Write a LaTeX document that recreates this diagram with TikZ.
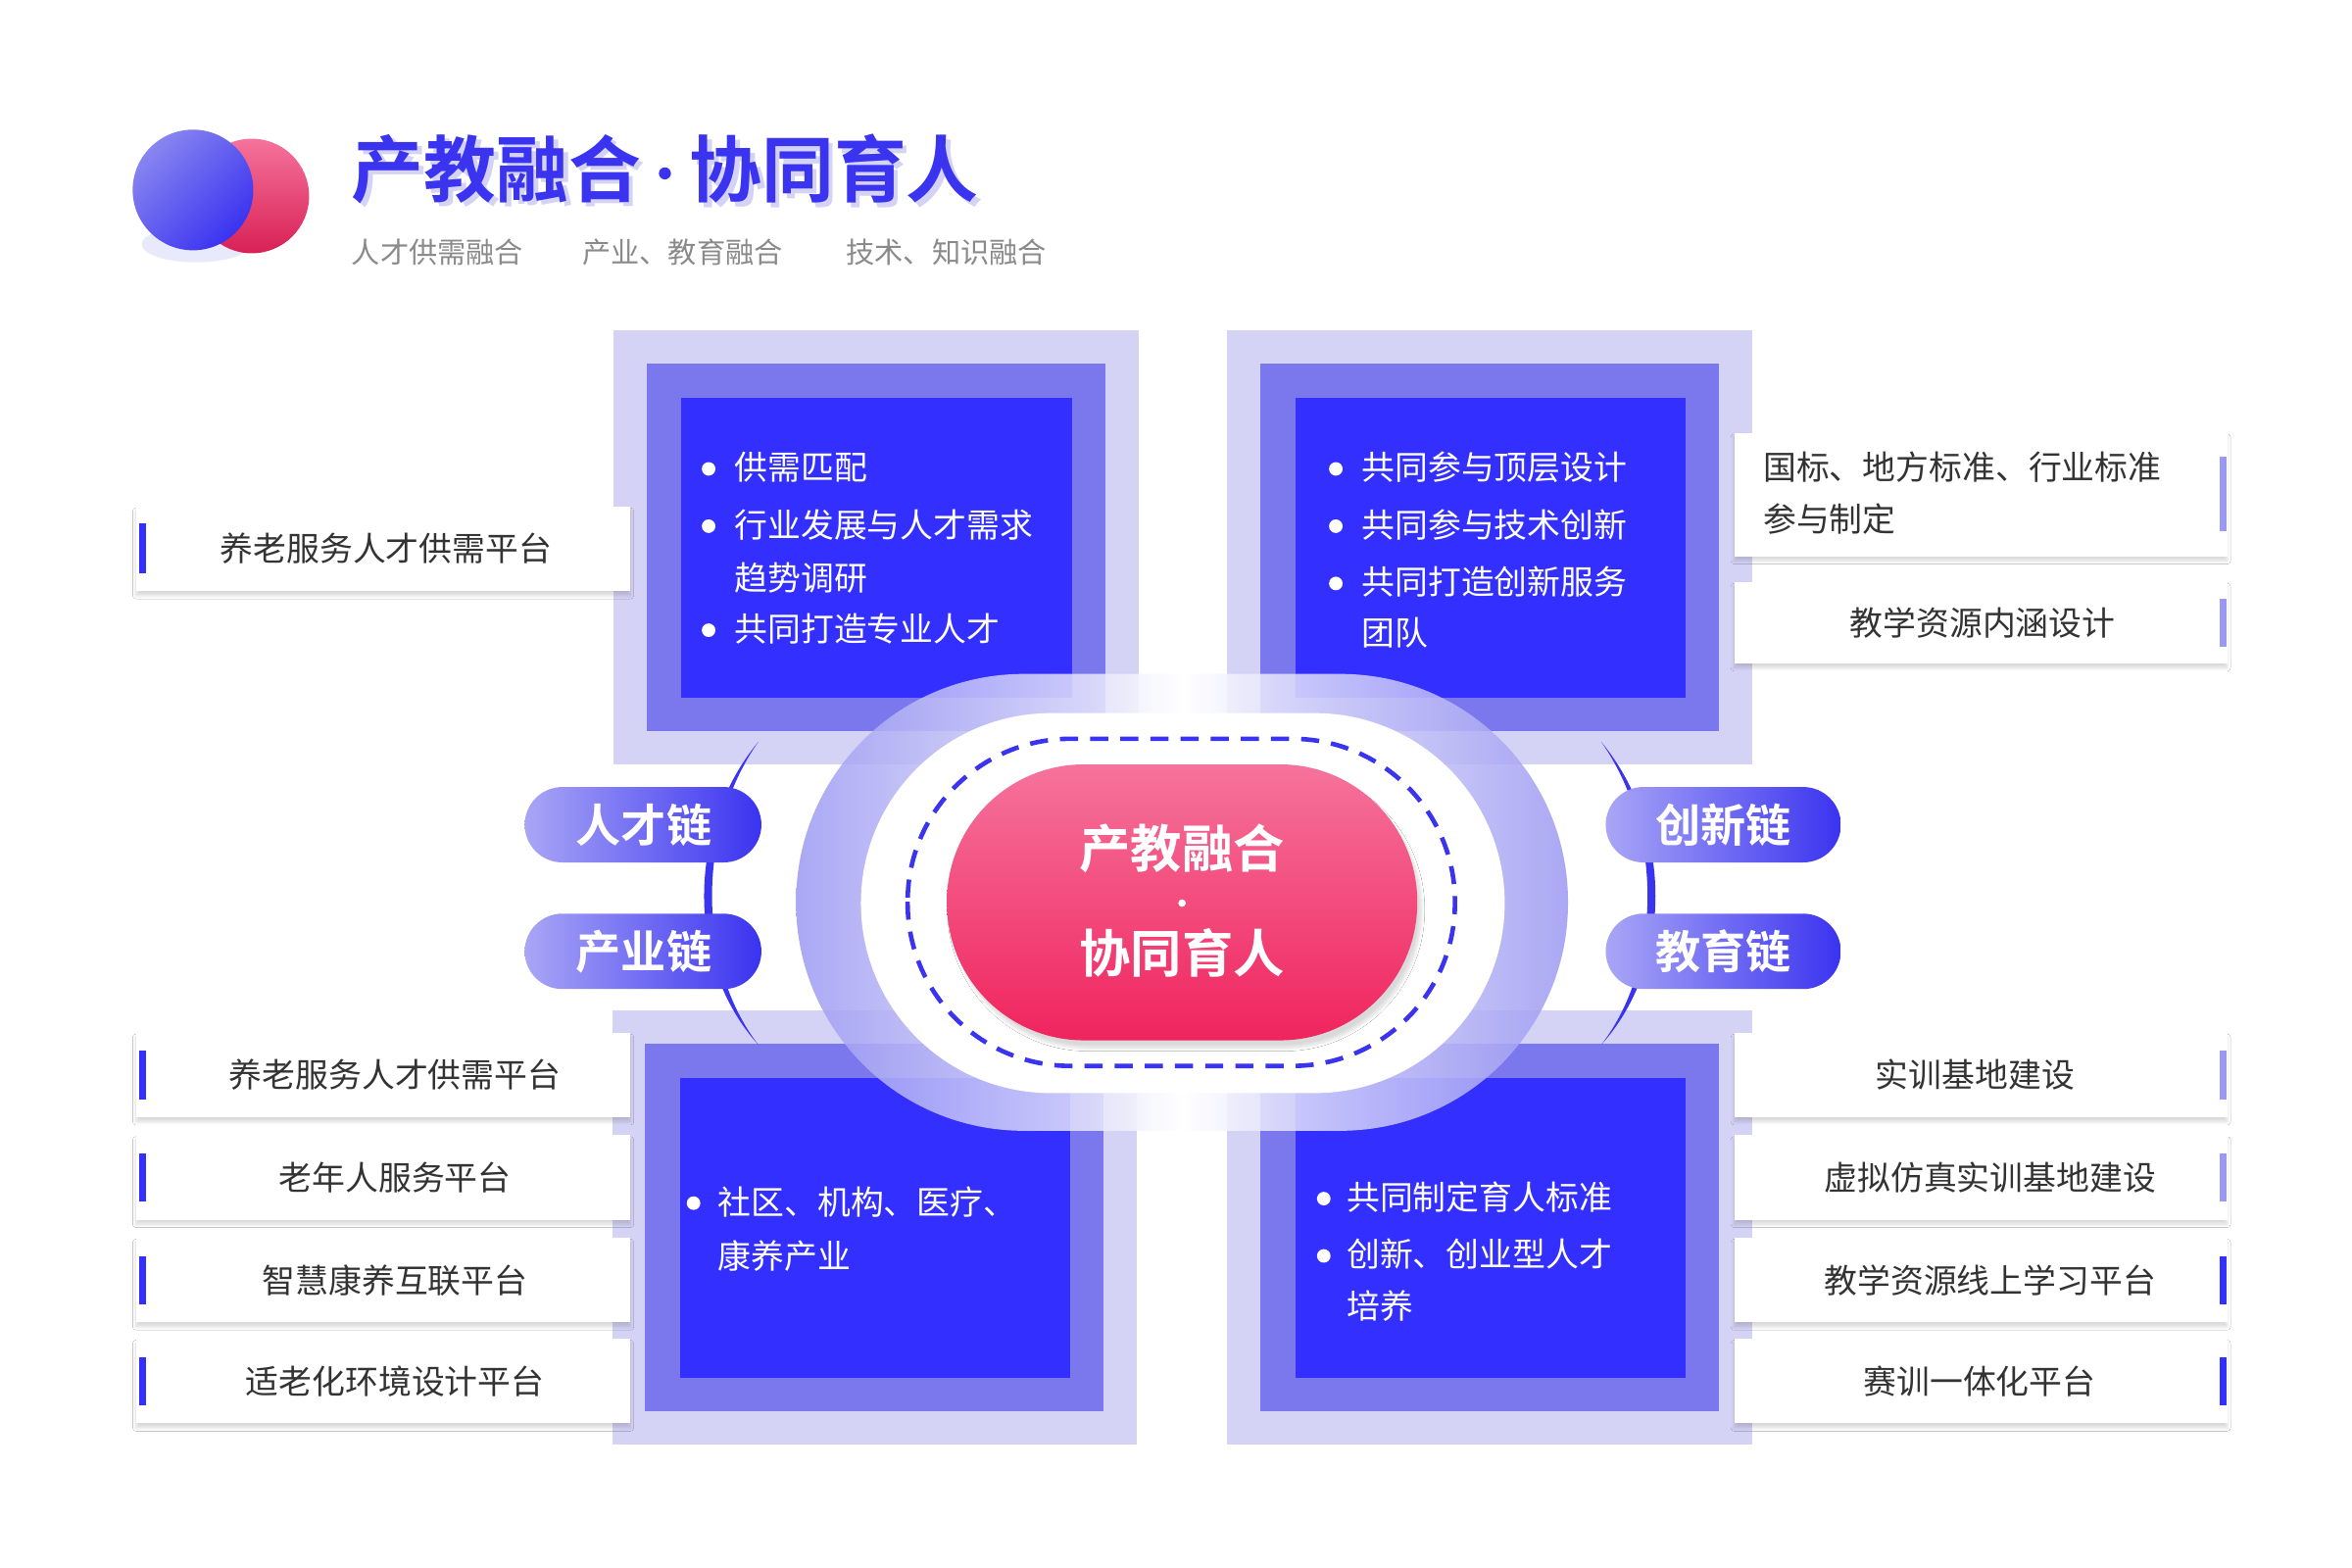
\documentclass[tikz,border=0pt]{standalone}
\usepackage{fontspec}
\setmainfont{Noto Sans CJK SC}
\newfontfamily\cjkb{Noto Sans CJK SC Bold}
\usetikzlibrary{shadows.blur}
\definecolor{bdeep}{HTML}{3330FF}
\definecolor{bmid}{HTML}{7B78EE}
\definecolor{blight}{HTML}{D4D3F5}
\definecolor{tblue}{HTML}{3A33F0}
\definecolor{txtg}{HTML}{8A8A8A}
\definecolor{txtd}{HTML}{333333}
\definecolor{pinkt}{HTML}{F5739C}
\definecolor{pinkb}{HTML}{F0245E}
\definecolor{lav}{HTML}{A9A6F6}
\definecolor{barl}{HTML}{9C99F5}
\tikzset{
  ptxt/.style={text=white,font=\fontsize{22}{26}\selectfont,anchor=west,inner sep=0},
  pill/.style={rounded corners=25pt,left color=lav,right color=tblue},
  pilltxt/.style={text=white,font=\cjkb\fontsize{30}{34}\selectfont},
  card/.style={fill=white,blur shadow={shadow blur steps=8,shadow xshift=0pt,shadow yshift=-3pt,shadow opacity=15}},
  ctxt/.style={text=txtd,font=\fontsize{22}{26}\selectfont},
  dot/.style={circle,fill=white,inner sep=0,minimum size=9pt},
  ttl/.style={anchor=west,font=\cjkb\fontsize{48}{50}\selectfont,inner sep=0}
}
\begin{document}
\begin{tikzpicture}[x=1pt,y=-1pt]
\fill[white] (0,0) rectangle (1560,1040);
\useasboundingbox (0,0) rectangle (1560,1040);
% title circles
\fill[bmid!40,opacity=0.4] (130,162) ellipse (36 and 12);
\shade[top color=pinkt,bottom color=pinkb!90!black] (167,130) circle (38);
\shade[left color=bmid!90,right color=tblue,shading angle=45] (128,126) circle (40);
\begin{scope}[text=blight]
\node[ttl] at (236,115) {产教融合};
\node[ttl] at (460,115) {协同育人};
\end{scope}
\node[ttl,text=tblue] (title1) at (233,112) {产教融合};
\fill[tblue] (441,115) circle (4);
\node[ttl,text=tblue] (title2) at (457,112) {协同育人};
\node[anchor=west,text=txtg,font=\fontsize{19}{22}\selectfont,inner sep=0] (s1) at (233,167) {人才供需融合};
\node[anchor=west,text=txtg,font=\fontsize{19}{22}\selectfont,inner sep=0] (s2) at (386,167) {产业、教育融合};
\node[anchor=west,text=txtg,font=\fontsize{19}{22}\selectfont,inner sep=0] (s3) at (561,167) {技术、知识融合};
% panels
\foreach \x/\y in {407/219,814/219,406/670,814/670}{
  \fill[blight] (\x,\y) rectangle ++(348,288);
  \fill[bmid] (\x+22,\y+22) rectangle ++(304,244);
  \fill[bdeep] (\x+45,\y+45) rectangle ++(259,199);
}
% left cards
\node[card,minimum width=328pt,minimum height=56pt,anchor=west] (c0) at (90,364) {};
\fill[bdeep] (92,347) rectangle (97,380);
\node[ctxt] at (256,364) {养老服务人才供需平台};
\foreach \yy/\t in {713/养老服务人才供需平台,781/老年人服务平台,849/智慧康养互联平台,916/适老化环境设计平台}{
  \node[card,minimum width=328pt,minimum height=56pt,anchor=west] at (90,\yy) {};
  \fill[bdeep] (92,\yy-16) rectangle (97,\yy+16);
  \node[ctxt] at (262,\yy) {\t};
}
% right cards
\node[card,minimum width=327pt,minimum height=82pt,anchor=west] (r0) at (1150,328) {};
\fill[barl] (1472,303) rectangle (1477,352);
\node[ctxt,anchor=west,align=left,font=\fontsize{22}{34}\selectfont] at (1166,327) {国标、地方标准、行业标准\\参与制定};
\node[card,minimum width=327pt,minimum height=54pt,anchor=west] (r1) at (1150,413) {};
\fill[barl] (1472,397) rectangle (1477,429);
\node[ctxt] at (1315,413) {教学资源内涵设计};
\foreach \yy/\t/\c/\cx in {713/实训基地建设/barl/1310,781/虚拟仿真实训基地建设/barl/1320,849/教学资源线上学习平台/bdeep/1320,916/赛训一体化平台/bdeep/1313}{
  \node[card,minimum width=327pt,minimum height=56pt,anchor=west] at (1150,\yy) {};
  \fill[\c] (1472,\yy-16) rectangle (1477,\yy+16);
  \node[ctxt] at (\cx,\yy) {\t};
}
% panel texts
\node[dot] at (470,311) {}; \node[ptxt] (t1) at (487,310) {供需匹配};
\node[dot] at (470,349) {}; \node[ptxt] (t2) at (487,348) {行业发展与人才需求};
\node[ptxt] (t3) at (487,383) {趋势调研};
\node[dot] at (470,418) {}; \node[ptxt] (t4) at (487,417) {共同打造专业人才};
\node[dot] at (886,311) {}; \node[ptxt] (u1) at (903,310) {共同参与顶层设计};
\node[dot] at (886,349) {}; \node[ptxt] (u2) at (903,348) {共同参与技术创新};
\node[dot] at (886,387) {}; \node[ptxt] (u3) at (903,386) {共同打造创新服务};
\node[ptxt] (u4) at (903,420) {团队};
\node[dot] at (460,798) {}; \node[ptxt] (v1) at (476,797) {社区、机构、医疗、};
\node[ptxt] (v2) at (476,833) {康养产业};
\node[dot] at (878,795) {}; \node[ptxt] (w1) at (893,794) {共同制定育人标准};
\node[dot] at (878,833) {}; \node[ptxt] (w2) at (893,832) {创新、创业型人才};
\node[ptxt] (w3) at (893,866) {培养};
% connecting arcs
\fill[tblue] (503,492) .. controls (455,550) and (455,640) .. (503,693) .. controls (462,640) and (462,550) .. cycle;
\fill[tblue] (1062,492) .. controls (1110,550) and (1110,640) .. (1062,693) .. controls (1103,640) and (1103,550) .. cycle;
% center
\shade[left color=bmid!75,right color=bmid!75,middle color=white,opacity=0.85,rounded corners=151pt] (528,447) rectangle (1040,750);
\fill[white,rounded corners=126pt] (571,473) rectangle (998,725);
\draw[tblue,line width=3pt,dash pattern=on 12pt off 8pt,rounded corners=108pt] (602,490) rectangle (965,707);
\shade[top color=pinkt,bottom color=pinkb,rounded corners=91pt,blur shadow={shadow blur steps=10,shadow yshift=-5pt,shadow opacity=15}] (628,507) rectangle (940,690);
\node[text=white,font=\cjkb\fontsize{34}{38}\selectfont] (ca) at (784,563) {产教融合};
\fill[white] (784,599) circle (2.5);
\node[text=white,font=\cjkb\fontsize{34}{38}\selectfont] (cb) at (784,632) {协同育人};
% pills
\shade[pill] (348,522) rectangle (505,572); \node[pilltxt] (p1) at (427,547) {人才链};
\shade[pill] (348,606) rectangle (505,656); \node[pilltxt] (p2) at (427,631) {产业链};
\shade[pill] (1065,522) rectangle (1221,572); \node[pilltxt] (p3) at (1143,547) {创新链};
\shade[pill] (1065,606) rectangle (1221,656); \node[pilltxt] (p4) at (1143,631) {教育链};
\end{tikzpicture}
\end{document}
